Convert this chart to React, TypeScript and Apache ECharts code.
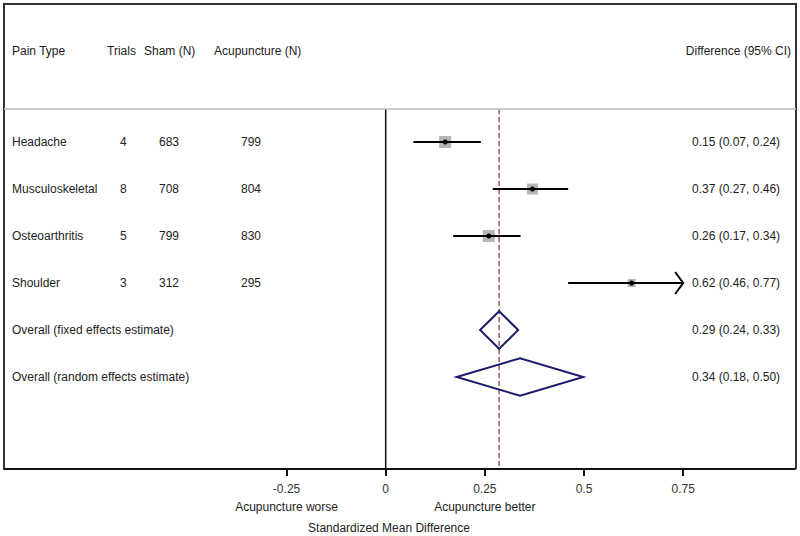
import React, { useEffect, useRef } from 'react';
import * as echarts from 'echarts';

// ---------- data ----------
const painTypes = ['Headache', 'Musculoskeletal', 'Osteoarthritis', 'Shoulder'];
const trials = [4, 8, 5, 3];
const shamN = [683, 708, 799, 312];
const acupunctureN = [799, 804, 830, 295];
const estimates = [0.15, 0.37, 0.26, 0.62];
const lowerCI = [0.07, 0.27, 0.17, 0.46];
const upperCI = [0.24, 0.46, 0.34, 0.77];
const studyWeights = [12, 11, 12, 8];
const studyDiffLabels = ['0.15 (0.07, 0.24)', '0.37 (0.27, 0.46)', '0.26 (0.17, 0.34)', '0.62 (0.46, 0.77)'];

const overallLabels = ['Overall (fixed effects estimate)', 'Overall (random effects estimate)'];
const overallEst = [0.286, 0.339];
const overallLower = [0.238, 0.179];
const overallUpper = [0.334, 0.498];
const overallDiffLabels = ['0.29 (0.24, 0.33)', '0.34 (0.18, 0.50)'];

const tickValues = [-0.25, 0, 0.25, 0.5, 0.75];
const clipMax = 0.75;
const headerLabels = ['Pain Type', 'Trials', 'Sham (N)', 'Acupuncture (N)', 'Difference (95% CI)'];
const sideLabels = ['Acupuncture worse', 'Acupuncture better'];
const sideLabelPos = [-0.25, 0.25];
const axisTitle = 'Standardized Mean Difference';

const X_MIN = -0.9624;
const X_MAX = 1.032;
const Y_MIN = 0.298;
const Y_MAX = 7.957;

const FONT = '12px "Liberation Sans", Arial, sans-serif';
const TXT = '#222';

export default function App() {
  const ref = useRef<HTMLDivElement>(null);

  useEffect(() => {
    if (!ref.current) return;
    document.body.style.margin = '0';
    const chart = echarts.init(ref.current, null, { renderer: 'svg', width: 800, height: 536 });

    const studyData = painTypes.map((_, i) => [estimates[i], lowerCI[i], upperCI[i], i + 1, studyWeights[i]]);
    const overallData = overallEst.map((_, i) => [overallEst[i], overallLower[i], overallUpper[i], painTypes.length + 1 + i]);
    const tableRows = [
      ...painTypes.map((p, i) => ({
        row: i + 1,
        cells: [p, String(trials[i]), String(shamN[i]), String(acupunctureN[i])],
        diff: studyDiffLabels[i],
      })),
      ...overallLabels.map((p, i) => ({
        row: painTypes.length + 1 + i,
        cells: [p, '', '', ''],
        diff: overallDiffLabels[i],
      })),
    ];
    const colX = [12, 120, 159, 241];
    const diffX = 692;

    const text = (t: string, x: number, y: number, align = 'left') => ({
      type: 'text',
      style: { text: t, x, y, fill: TXT, font: FONT, textAlign: align, textVerticalAlign: 'middle' },
    });

    const option: any = {
      animation: false,
      grid: { left: 4, right: 5, top: 109, bottom: 67, show: false },
      xAxis: {
        type: 'value',
        min: X_MIN,
        max: X_MAX,
        splitLine: { show: false },
        axisLine: { show: true, onZero: false, lineStyle: { color: '#111', width: 2 } },
        axisTick: { show: true, customValues: tickValues, length: 7, lineStyle: { color: '#111', width: 2 } },
        axisLabel: {
          show: true,
          customValues: tickValues,
          margin: 14,
          color: '#333',
          fontSize: 12,
          fontFamily: '"Liberation Sans", Arial, sans-serif',
          formatter: (v: number) => String(v),
        },
      },
      yAxis: {
        type: 'value',
        inverse: true,
        min: Y_MIN,
        max: Y_MAX,
        show: false,
      },
      graphic: [
        { type: 'polyline', shape: { points: [[4, 469], [4, 4], [796, 4], [796, 469]] }, style: { stroke: '#333', lineWidth: 2, fill: 'none' }, z: 10 },
        { type: 'line', shape: { x1: 4, y1: 109, x2: 796, y2: 109 }, style: { stroke: '#bdbdbd', lineWidth: 1.5 }, z: 10 },
        text(headerLabels[0], 12, 51),
        text(headerLabels[1], 107, 51),
        text(headerLabels[2], 144, 51),
        text(headerLabels[3], 214, 51),
        text(headerLabels[4], 791, 51, 'right'),
        text(axisTitle, 389, 528, 'center'),
      ],
      series: [
        {
          type: 'custom',
          silent: true,
          data: [[0, 0], [overallEst[0], 1]],
          encode: { x: 0 },
          renderItem: (params: any, api: any) => {
            const x = api.value(0);
            const kind = api.value(1);
            const p1 = api.coord([x, Y_MIN]);
            const p2 = api.coord([x, Y_MAX]);
            return {
              type: 'line',
              shape: { x1: p1[0], y1: p1[1], x2: p2[0], y2: p2[1] },
              style: kind === 0
                ? { stroke: '#111', lineWidth: 1.5 }
                : { stroke: '#a8545c', lineWidth: 1.5, lineDash: [5, 3] },
            };
          },
          z: 1,
        },
        {
          type: 'custom',
          silent: true,
          data: studyData,
          encode: { x: [0, 1, 2], y: 3 },
          renderItem: (params: any, api: any) => {
            const est = api.value(0);
            const lo = api.value(1);
            const hi = api.value(2);
            const row = api.value(3);
            const sz = api.value(4);
            const hiC = Math.min(hi, clipMax);
            const pLo = api.coord([lo, row]);
            const pHi = api.coord([hiC, row]);
            const pE = api.coord([est, row]);
            const children: any[] = [
              { type: 'rect', shape: { x: pE[0] - sz / 2, y: pE[1] - sz / 2, width: sz, height: sz }, style: { fill: '#b5b5b5' } },
              { type: 'line', shape: { x1: pLo[0], y1: pLo[1], x2: pHi[0], y2: pHi[1] }, style: { stroke: '#000', lineWidth: 2 } },
              { type: 'circle', shape: { cx: pE[0], cy: pE[1], r: 2.5 }, style: { fill: '#000' } },
            ];
            if (hi > clipMax) {
              children.push({
                type: 'polyline',
                shape: { points: [[pHi[0] - 8, pHi[1] - 11], [pHi[0], pHi[1]], [pHi[0] - 8, pHi[1] + 11]] },
                style: { stroke: '#000', lineWidth: 2, fill: 'none' },
              });
            }
            return { type: 'group', children };
          },
          z: 3,
        },
        {
          type: 'custom',
          silent: true,
          data: overallData,
          encode: { x: [0, 1, 2], y: 3 },
          renderItem: (params: any, api: any) => {
            const est = api.value(0);
            const lo = api.value(1);
            const hi = api.value(2);
            const row = api.value(3);
            const pts = [
              api.coord([lo, row]),
              api.coord([est, row - 0.4]),
              api.coord([hi, row]),
              api.coord([est, row + 0.4]),
            ];
            return {
              type: 'polygon',
              shape: { points: pts },
              style: { stroke: '#1c1c6b', lineWidth: 2, fill: 'rgba(0,0,0,0)' },
            };
          },
          z: 3,
        },
        {
          type: 'custom',
          silent: true,
          data: tableRows.map((r) => [0, r.row]),
          encode: { x: 0, y: 1 },
          renderItem: (params: any, api: any) => {
            const r = tableRows[params.dataIndex];
            const y = api.coord([0, api.value(1)])[1];
            const children: any[] = [];
            r.cells.forEach((c, j) => {
              if (c) children.push(text(c, colX[j], y));
            });
            children.push(text(r.diff, diffX, y));
            return { type: 'group', children };
          },
          z: 4,
        },
        {
          type: 'custom',
          silent: true,
          data: sideLabelPos.map((v) => [v]),
          encode: { x: 0 },
          renderItem: (params: any, api: any) => {
            const x = api.coord([api.value(0), Y_MAX])[0];
            return text(sideLabels[params.dataIndex], x, 507, 'center');
          },
          z: 4,
        },
      ],
    };

    chart.setOption(option);
    return () => chart.dispose();
  }, []);

  return <div ref={ref} style={{ width: 800, height: 536 }} />;
}
